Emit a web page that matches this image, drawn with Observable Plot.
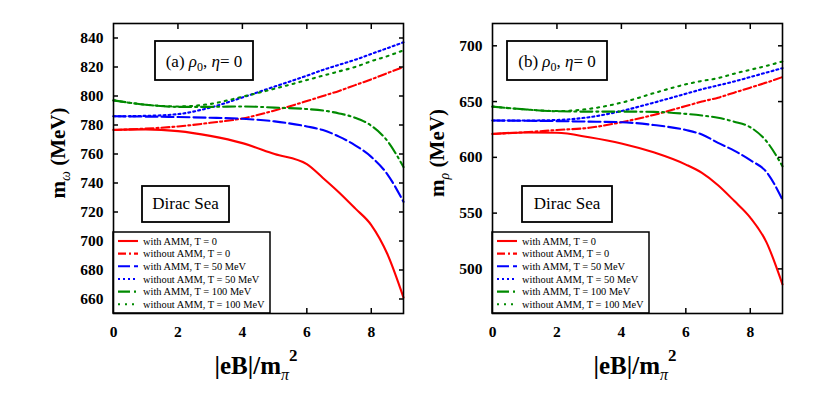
<!DOCTYPE html>
<html><head><meta charset="utf-8">
<script src="https://cdn.jsdelivr.net/npm/d3@7"></script>
<script src="https://cdn.jsdelivr.net/npm/@observablehq/plot@0.6"></script>
<style>
html,body{margin:0;padding:0;background:#fff;}
#wrap{display:flex;width:830px;height:418px;overflow:hidden;}
#wrap svg{display:block;flex:none;}
</style></head><body><div id="wrap"></div>
<script>
// magnetic field |eB|/m_pi^2 sample points
const eB = [0,1,2,3,4,5,6,6.5,7,7.5,8,8.5,9];

// (a) omega meson mass (MeV)
const omegaAMM_T0      = [776.7,777,775.8,772.5,767.5,760,753,743.5,733.5,722.5,711,691,661];
const omegaNoAMM_T0    = [776.5,777.5,779,781.5,784.5,790,796.5,800,803.5,807.5,811.5,815.8,820];
const omegaAMM_T50     = [786,785.8,785.5,785,784.3,782.5,779,776.5,772,766,758,746,727];
const omegaNoAMM_T50   = [786,786.3,787.5,792,799,806.5,814,818,821.5,825,829,833,837];
const omegaAMM_T100    = [797,794,792.5,792.5,792.8,792,791,790,788,785,779.5,769,751];
const omegaNoAMM_T100  = [797,794,792.8,794.5,799.5,805,811,814,817,820,824,827.5,831.5];

// (b) rho meson mass (MeV)
const rhoAMM_T0      = [621,622.3,622,618,612.5,604.5,593.5,586,575,561,546,524,486];
const rhoNoAMM_T0    = [621,622.5,624.5,626.5,631.5,638,646,650,653.5,658,662.5,667,672];
const rhoAMM_T50     = [633,632.8,632.5,632,631.5,629,624.5,620.5,613,606,597.5,587,562];
const rhoNoAMM_T50   = [633,633,633.5,636,641.5,649,657,661,664.5,668,672,676,680];
const rhoAMM_T100    = [645.5,643,641.3,641,641,640.8,639,637.5,635.5,632,627,614.5,592];
const rhoNoAMM_T100  = [645.5,643,641.5,643.5,649,657.5,665.5,668.5,671,675,678.5,682,686];

const seriesLabels = ["with AMM, T = 0","without AMM, T = 0","with AMM, T = 50 MeV",
  "without AMM, T = 50 MeV","with AMM, T = 100 MeV","without AMM, T = 100 MeV"];

const omegaTicks = [660,680,700,720,740,760,780,800,820,840];
const rhoTicks = [500,550,600,650,700];
const xTickLabels = [0,2,4,6,8];
const xInnerTicks = [2,4,6,8];

// styles (not data)
const seriesStyle = [
  {color:"#ff0000", dash:null},
  {color:"#ff0000", dash:"8,3,2,3"},
  {color:"#0000ff", dash:"12,4"},
  {color:"#0000ff", dash:"2,3"},
  {color:"#008a00", dash:"12,4,2,4"},
  {color:"#008a00", dash:"2,5"}
];

const FONT = "'Liberation Serif', 'Times New Roman', serif";

function txt(sel) {
  return sel.append("text").attr("font-family", FONT).attr("text-anchor", "start")
    .attr("fill", "black").attr("font-weight", "normal").attr("font-style", "normal");
}

function boxText(g, x, y, w, h, build, baseline) {
  g.append("rect").attr("x", x).attr("y", y).attr("width", w).attr("height", h)
    .attr("fill", "white").attr("stroke", "black").attr("stroke-width", 1.8);
  const t = txt(g).attr("x", x + w / 2).attr("y", y + baseline)
    .attr("text-anchor", "middle").attr("font-size", 17);
  build(t);
}

function panel(opts) {
  const {width, marginLeft, marginRight, domain, yTicks, series, tag, tagX, tagW, diracX, diracW, sub} = opts;
  const marks = [];
  series.forEach((vals, i) => {
    const data = eB.map((x, j) => ({x, y: vals[j]}));
    marks.push(Plot.line(data, {x: "x", y: "y", stroke: seriesStyle[i].color, strokeWidth: 2.1,
      strokeDasharray: seriesStyle[i].dash, curve: "monotone-x"}));
  });
  // axes
  marks.push(
    Plot.axisY(yTicks, {anchor: "left", tickSize: 0, tickPadding: 10, fontSize: 15.5, fontWeight: "bold", label: null}),
    Plot.axisY(yTicks, {anchor: "left", tickSize: -5, strokeWidth: 1.5, tickFormat: () => "", label: null}),
    Plot.axisY(yTicks, {anchor: "right", tickSize: -5, strokeWidth: 1.5, tickFormat: () => "", label: null}),
    Plot.axisX(xTickLabels, {anchor: "bottom", tickSize: 0, tickPadding: 12, fontSize: 15.5, fontWeight: "bold", label: null}),
    Plot.axisX(xInnerTicks, {anchor: "bottom", tickSize: -5, strokeWidth: 1.5, tickFormat: () => "", label: null}),
    Plot.axisX(xInnerTicks, {anchor: "top", tickSize: -5, strokeWidth: 1.5, tickFormat: () => "", label: null})
  );
  // annotations, legend, titles
  marks.push((index, scales, values, dim) => {
    const g = d3.create("svg:g");
    const L = dim.marginLeft, T = dim.marginTop, B = dim.height - dim.marginBottom, R = dim.width - dim.marginRight;
    // tag box
    boxText(g, L + tagX, T + 18, tagW, 39, t => {
      t.append("tspan").text("(" + tag + ") ");
      t.append("tspan").attr("font-style", "italic").text("ρ");
      t.append("tspan").attr("dy", 4).attr("font-size", 12).text("0");
      t.append("tspan").attr("dy", -4).text(", ");
      t.append("tspan").attr("font-style", "italic").text("η");
      t.append("tspan").text("= 0");
    }, 26);
    // Dirac Sea box
    boxText(g, L + diracX, T + 163, diracW, 36, t => t.text("Dirac Sea"), 23);
    // legend
    const lw = 157, lh = 81;
    g.append("rect").attr("x", L).attr("y", B - lh).attr("width", lw).attr("height", lh)
      .attr("fill", "white").attr("stroke", "black").attr("stroke-width", 1.5);
    seriesLabels.forEach((lab, i) => {
      const cy = B - lh + 9 + i * 12.65;
      g.append("line").attr("x1", L + 5).attr("x2", L + 25).attr("y1", cy).attr("y2", cy)
        .attr("stroke", seriesStyle[i].color).attr("stroke-width", 2.1)
        .attr("stroke-dasharray", seriesStyle[i].dash);
      txt(g).attr("x", L + 30).attr("y", cy + 3.6).attr("font-size", 10.4).text(lab);
    });
    // y title
    const yt = txt(g).attr("transform", `translate(${L - 48},${(T + B) / 2 - 15}) rotate(-90)`)
      .attr("text-anchor", "middle").attr("font-size", 21).attr("font-weight", "bold");
    yt.append("tspan").text("m");
    yt.append("tspan").attr("dy", 5).attr("font-size", 14).attr("font-style", "italic").attr("font-weight", "normal").text(sub);
    yt.append("tspan").attr("dy", -5).text(" (MeV)");
    // x title
    const xt = txt(g).attr("x", (L + R) / 2 - 2).attr("y", B + 61)
      .attr("text-anchor", "middle").attr("font-size", 25).attr("font-weight", "bold");
    xt.append("tspan").text("|eB|/m");
    xt.append("tspan").attr("dy", 6).attr("font-size", 16).attr("font-style", "italic").attr("font-weight", "normal").text("π");
    xt.append("tspan").attr("dy", -19).attr("font-size", 17).text("2");
    return g.node();
  });
  marks.push(Plot.frame({stroke: "black", strokeWidth: 1.6}));
  return Plot.plot({
    width, height: 418, marginLeft, marginRight, marginTop: 23, marginBottom: 105,
    x: {domain: [0, 9]},
    y: {domain},
    style: {fontFamily: FONT, background: "white", color: "black", overflow: "visible"},
    marks
  });
}

const wrap = document.getElementById("wrap");
wrap.appendChild(panel({
  width: 450, marginLeft: 113, marginRight: 47, domain: [650, 850], yTicks: omegaTicks,
  series: [omegaAMM_T0, omegaNoAMM_T0, omegaAMM_T50, omegaNoAMM_T50, omegaAMM_T100, omegaNoAMM_T100],
  tag: "a", tagX: 42, tagW: 98, diracX: 29, diracW: 87, sub: "ω"
}));
wrap.appendChild(panel({
  width: 380, marginLeft: 42, marginRight: 48, domain: [460, 720], yTicks: rhoTicks,
  series: [rhoAMM_T0, rhoNoAMM_T0, rhoAMM_T50, rhoNoAMM_T50, rhoAMM_T100, rhoNoAMM_T100],
  tag: "b", tagX: 15, tagW: 100, diracX: 30, diracW: 90, sub: "ρ"
}));
</script></body></html>
